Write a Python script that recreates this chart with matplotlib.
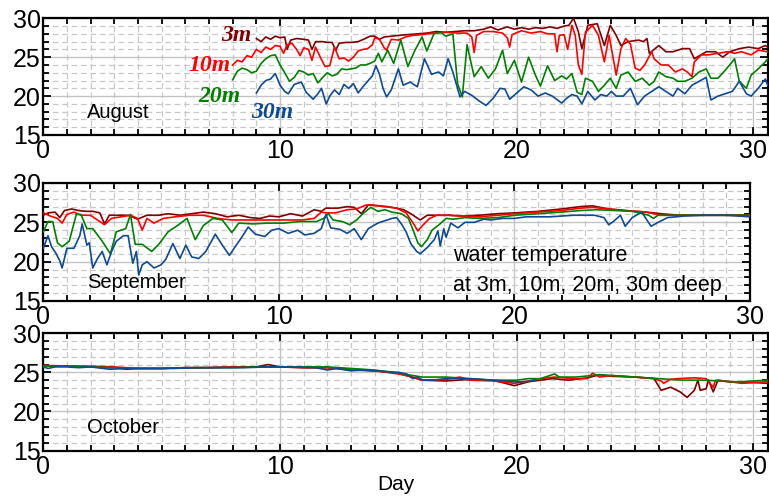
import matplotlib
matplotlib.use('Agg')
import matplotlib.pyplot as plt
from matplotlib.ticker import MultipleLocator, FixedLocator

# ---------------- data (day, temperature degC) ----------------
aug_3m = [(9.0,27.4),(9.2,27.0),(9.4,27.6),(9.6,27.3),(9.8,27.7),(10.0,27.5),(10.2,27.6),(10.3,26.0),(10.45,27.2),(10.7,27.4),
          (11.0,27.3),(11.2,27.2),(11.35,26.0),(11.5,27.0),(11.8,27.0),(12.0,26.9),(12.2,26.9),(12.35,25.9),(12.5,26.8),(12.8,26.9),
          (13.0,26.9),(13.3,27.0),(13.6,27.4),(13.8,27.7),(14.0,27.7),(14.2,27.3),(14.4,27.6),(14.7,27.7),(15.0,27.8),(15.4,27.9),
          (15.8,28.0),(16.2,28.1),(16.6,28.3),(17.0,28.2),(17.4,28.3),(17.8,28.4),(18.2,28.4),(18.6,28.6),(18.9,28.9),(19.2,28.5),
          (19.6,28.9),(19.9,28.6),(20.2,28.8),(20.5,28.6),(20.8,28.8),(21.1,28.7),(21.4,28.9),(21.7,28.7),(22.0,29.0),(22.2,29.1),
          (22.4,30.0),(22.6,28.3),(22.75,26.1),(23.0,29.1),(23.4,29.3),(23.7,26.5),(23.95,29.1),(24.2,27.8),(24.4,26.5),(24.7,27.0),
          (25.15,27.2),(25.35,27.0),(25.5,27.4),(25.6,25.5),(26.0,26.5),(26.3,25.7),(26.6,25.7),(27.0,26.1),(27.3,26.1),(27.5,24.8),
          (28.0,25.7),(28.4,25.7),(28.7,25.0),(29.0,25.7),(29.4,26.1),(29.8,26.3),(30.2,26.1),(30.5,26.5),(30.6,26.3)]
aug_10m = [(8.0,24.0),(8.2,24.6),(8.4,24.4),(8.6,25.2),(8.8,25.0),(9.0,26.0),(9.2,25.6),(9.4,26.3),(9.6,26.0),(9.8,26.5),
           (10.0,26.4),(10.15,25.5),(10.3,26.6),(10.5,26.8),(10.7,26.0),(10.85,25.2),(11.0,26.2),(11.2,26.0),(11.35,24.6),(11.5,26.3),
           (11.7,25.0),(11.9,23.8),(12.1,23.9),(12.3,26.3),(12.5,24.8),(12.7,24.9),(12.9,24.5),(13.1,25.0),(13.3,25.8),(13.5,26.0),
           (13.7,26.1),(13.9,26.6),(14.0,27.5),(14.2,27.3),(14.4,26.2),(14.5,25.9),(14.7,27.3),(15.0,27.2),(15.3,27.6),(15.6,27.8),
           (16.0,27.9),(16.5,28.1),(17.0,28.2),(17.5,28.1),(17.9,28.1),(18.1,27.6),(18.2,25.6),(18.3,27.8),(18.6,28.3),(19.0,28.3),
           (19.4,28.1),(19.6,27.5),(19.7,26.3),(19.8,27.9),(20.2,28.4),(20.6,28.1),(21.0,28.3),(21.3,28.0),(21.6,28.0),(21.7,25.7),
           (21.8,27.8),(22.0,27.9),(22.15,26.0),(22.33,29.1),(22.47,27.8),(22.6,24.0),(22.75,22.8),(22.9,28.2),(23.2,29.1),(23.45,27.8),
           (23.7,24.4),(23.9,27.8),(24.2,22.7),(24.4,26.1),(24.6,27.4),(24.8,26.7),(25.0,23.6),(25.2,23.3),(25.4,24.0),(25.7,25.7),
           (25.8,24.8),(26.1,24.0),(26.4,24.0),(26.7,23.1),(27.0,23.5),(27.2,23.1),(27.4,22.5),(27.5,24.4),(27.8,25.3),(28.1,25.3),
           (28.5,25.5),(28.9,25.7),(29.2,25.5),(29.5,25.7),(29.9,25.3),(30.2,25.9),(30.6,25.7)]
aug_20m = [(8.0,22.1),(8.2,23.2),(8.4,23.6),(8.6,23.4),(8.8,23.0),(9.0,23.2),(9.2,24.2),(9.4,24.8),(9.6,25.2),(9.8,25.3),
           (10.0,24.0),(10.2,23.0),(10.4,21.9),(10.6,22.4),(10.8,23.3),(11.0,23.1),(11.2,22.7),(11.4,22.9),(11.6,21.7),(11.8,22.4),
           (12.0,23.0),(12.2,22.6),(12.4,22.8),(12.6,23.5),(12.8,23.4),(13.0,23.5),(13.2,23.6),(13.4,24.0),(13.6,24.0),(13.8,24.2),
           (14.0,24.5),(14.15,25.5),(14.3,24.4),(14.55,25.9),(14.8,24.2),(15.1,27.2),(15.4,23.8),(15.7,25.9),(16.0,27.6),(16.2,25.8),
           (16.5,28.0),(16.8,28.2),(17.0,27.7),(17.3,28.0),(17.5,21.6),(17.7,19.9),(17.9,26.6),(18.2,22.5),(18.5,23.8),(18.8,22.3),
           (19.1,23.5),(19.4,25.9),(19.6,22.9),(19.9,24.6),(20.2,21.8),(20.5,25.0),(20.8,22.6),(21.0,21.3),(21.3,23.9),(21.6,22.0),
           (21.9,22.6),(22.1,22.2),(22.33,22.9),(22.55,20.5),(22.75,20.2),(22.9,22.3),(23.2,21.9),(23.45,20.6),(23.7,21.4),(23.95,22.3),
           (24.2,21.0),(24.4,22.7),(24.7,23.1),(25.0,21.9),(25.3,22.3),(25.6,21.4),(25.8,21.9),(26.0,23.1),(26.3,22.5),(26.6,22.3),
           (26.8,21.9),(27.1,21.9),(27.4,22.3),(27.7,23.1),(28.0,23.5),(28.2,22.3),(28.5,22.3),(28.8,23.3),(29.1,24.4),(29.2,24.8),
           (29.4,21.9),(29.7,21.0),(29.9,22.7),(30.2,23.5),(30.5,24.4),(30.6,24.8)]
aug_30m = [(9.0,20.4),(9.2,21.4),(9.4,22.0),(9.6,22.2),(9.8,22.9),(10.0,21.4),(10.2,20.6),(10.35,20.3),(10.6,21.5),(10.9,21.8),
           (11.1,20.5),(11.4,19.6),(11.6,20.3),(11.75,21.0),(11.95,19.0),(12.1,20.0),(12.3,20.8),(12.5,20.2),(12.7,21.5),(12.9,21.0),
           (13.1,21.6),(13.3,20.4),(13.5,21.2),(13.7,21.9),(13.9,22.6),(14.05,23.9),(14.2,22.8),(14.35,21.0),(14.5,19.9),(14.7,20.8),
           (15.0,23.5),(15.2,21.4),(15.5,21.8),(15.8,21.2),(16.1,24.8),(16.4,22.8),(16.7,23.1),(16.9,22.6),(17.1,24.8),(17.3,23.1),
           (17.6,19.9),(17.8,20.6),(18.1,20.1),(18.4,19.4),(18.7,18.8),(19.0,19.7),(19.3,21.0),(19.5,20.9),(19.7,19.6),(20.0,20.4),
           (20.3,21.2),(20.6,20.8),(20.9,20.0),(21.2,20.4),(21.5,20.0),(21.9,19.1),(22.1,19.7),(22.33,20.2),(22.55,20.0),(22.75,19.0),
           (23.0,20.6),(23.3,19.5),(23.55,20.2),(23.8,20.0),(24.0,20.6),(24.2,20.0),(24.5,20.0),(24.8,21.0),(25.1,18.9),(25.4,20.0),
           (25.7,20.6),(26.0,21.2),(26.3,20.6),(26.6,20.0),(26.8,21.0),(27.1,20.3),(27.4,21.4),(27.7,21.9),(28.0,22.4),(28.2,19.5),
           (28.5,20.0),(28.8,20.3),(29.1,20.6),(29.2,21.0),(29.4,21.9),(29.7,20.3),(29.9,20.0),(30.2,21.0),(30.5,22.2),(30.6,21.4)]

sep_3m = [(0.0,25.9),(0.2,26.2),(0.5,26.3),(0.7,25.6),(0.9,26.5),(1.2,26.7),(1.5,26.5),(1.8,26.4),(2.1,26.4),(2.4,26.2),
          (2.6,24.8),(2.8,25.9),(3.2,25.9),(3.6,25.9),(4.0,25.4),(4.4,25.9),(4.9,25.9),(5.3,26.1),(5.8,25.9),(6.3,26.1),
          (6.8,26.3),(7.3,26.1),(7.8,25.7),(8.3,25.9),(8.8,25.6),(9.2,25.5),(9.6,25.8),(10.0,25.7),(10.5,26.1),(11.0,25.8),
          (11.5,26.6),(11.8,26.4),(12.0,26.8),(12.5,26.8),(12.9,27.0),(13.2,26.9),(13.5,26.1),(13.8,27.2),(14.2,27.1),(14.6,27.0),
          (15.0,26.8),(15.3,26.6),(15.6,26.1),(15.8,25.7),(16.0,25.3),(16.3,25.9),(16.7,25.9),(17.2,25.9),(17.8,25.8),(18.5,25.9),
          (19.3,26.1),(20.0,26.2),(21.0,26.4),(22.0,26.7),(22.8,27.0),(23.3,27.1),(24.0,26.7),(24.7,26.5),(25.6,26.3),(26.2,26.1),
          (27.0,25.9),(28.0,25.9),(29.0,25.9),(30.0,25.9)]
sep_10m = [(0.0,26.2),(0.3,25.8),(0.6,25.5),(0.8,24.9),(1.0,26.0),(1.3,26.3),(1.6,25.9),(2.0,25.9),(2.3,25.3),(2.6,24.7),
           (2.9,25.5),(3.3,25.7),(3.7,25.9),(4.0,25.5),(4.2,24.0),(4.4,25.5),(4.7,24.9),(5.1,25.5),(5.6,25.7),(6.2,25.9),
           (6.8,25.9),(7.4,25.5),(8.0,25.3),(8.6,25.3),(9.2,25.3),(9.8,25.3),(10.5,25.3),(11.0,25.3),(11.5,25.5),(11.8,26.3),
           (12.0,26.2),(12.4,26.2),(12.9,26.6),(13.3,26.7),(13.7,27.2),(14.0,27.2),(14.5,27.0),(15.0,26.8),(15.4,26.2),(15.7,24.9),
           (15.9,23.9),(16.1,24.6),(16.4,25.5),(16.7,25.9),(17.2,25.9),(17.8,25.8),(18.5,25.7),(19.3,25.9),(20.0,26.1),(21.0,26.3),
           (22.0,26.5),(22.8,26.8),(23.3,26.9),(24.0,26.7),(24.7,26.5),(25.6,26.3),(26.2,25.9),(27.0,25.9),(28.0,25.9),(29.0,25.9),
           (30.0,25.9)]
sep_20m = [(0.0,23.8),(0.2,25.1),(0.4,25.1),(0.6,22.4),(0.8,21.9),(1.1,22.6),(1.4,26.0),(1.6,26.0),(1.85,24.2),(2.1,24.2),
           (2.5,22.6),(2.85,21.0),(3.1,23.8),(3.5,24.2),(3.7,26.0),(3.9,22.2),(4.2,22.2),(4.6,21.3),(4.9,22.2),(5.3,23.8),
           (5.7,24.6),(6.1,25.5),(6.45,22.8),(6.8,24.6),(7.2,25.5),(7.6,25.3),(8.0,23.7),(8.3,24.9),(8.9,24.8),(9.5,24.9),
           (10.2,24.9),(10.9,25.1),(11.6,25.1),(11.9,25.5),(12.1,26.1),(12.3,25.3),(12.7,25.1),(13.0,24.7),(13.3,25.3),(13.6,26.2),
           (13.9,26.9),(14.2,26.4),(14.5,26.6),(14.8,26.3),(15.2,26.1),(15.5,25.5),(15.7,24.0),(15.9,22.4),(16.05,21.9),(16.3,22.8),
           (16.5,24.0),(16.8,24.7),(17.1,25.5),(17.4,25.4),(17.9,25.6),(18.5,25.5),(19.3,25.6),(20.0,25.9),(21.0,26.1),(22.0,26.3),
           (22.8,26.5),(23.5,26.6),(24.3,26.5),(25.0,26.4),(25.7,25.9),(25.9,25.5),(26.1,25.9),(27.0,25.9),(28.0,25.9),(29.0,25.9),
           (30.0,25.9)]
sep_30m = [(0.0,21.7),(0.2,23.3),(0.35,21.9),(0.55,21.0),(0.7,20.1),(0.8,19.2),(1.0,21.7),(1.3,21.7),(1.55,23.3),(1.65,24.8),
           (1.85,22.1),(1.95,22.4),(2.1,19.2),(2.3,20.4),(2.5,21.3),(2.7,19.6),(2.9,21.3),(3.1,22.6),(3.4,23.3),(3.6,23.3),
           (3.8,19.8),(3.95,21.3),(4.05,18.3),(4.2,19.6),(4.4,20.0),(4.7,19.2),(5.0,19.6),(5.2,20.3),(5.5,22.3),(5.8,20.4),
           (6.05,22.1),(6.3,20.6),(6.6,20.4),(6.9,21.3),(7.3,23.5),(7.6,22.1),(7.9,20.8),(8.1,21.7),(8.4,23.0),(8.7,24.4),
           (9.0,23.5),(9.4,23.2),(9.7,24.0),(10.0,24.2),(10.4,23.6),(10.8,24.0),(11.1,23.4),(11.5,23.6),(11.8,24.2),(12.0,26.0),
           (12.2,24.3),(12.6,24.1),(12.9,23.6),(13.2,24.2),(13.5,22.8),(13.8,24.2),(14.2,24.9),(14.5,25.2),(14.8,25.5),(15.0,25.6),
           (15.2,24.8),(15.4,23.8),(15.6,22.3),(15.85,21.3),(16.0,21.0),(16.3,21.8),(16.6,22.8),(16.75,23.9),(16.85,22.0),(17.0,24.2),
           (17.1,23.1),(17.3,24.9),(17.6,24.3),(17.9,25.0),(18.3,25.0),(18.7,25.4),(19.0,25.3),(19.5,25.5),(20.0,25.5),(20.5,25.7),
           (21.5,25.7),(22.5,25.9),(23.4,25.9),(23.8,25.6),(24.0,24.7),(24.2,25.1),(24.5,25.9),(24.7,24.5),(25.0,25.6),(25.4,26.3),
           (25.8,24.5),(26.1,25.0),(26.5,25.6),(27.2,25.8),(28.0,25.9),(29.0,25.9),(30.0,25.7)]

oct_3m = [(0,25.8),(1,25.8),(2,25.7),(3,25.6),(3.5,25.4),(4,25.5),(5,25.5),(6,25.6),(7,25.6),(8,25.7),(9,25.7),(9.5,26.0),
          (10,25.7),(11,25.6),(12,25.6),(13,25.3),(14,25.2),(15,24.9),(16,24.0),(17,23.9),(18,24.1),(19,24.0),(19.9,23.3),
          (20.5,23.8),(21,24.0),(21.5,24.2),(22.2,24.0),(23,24.3),(23.5,24.7),(24,24.5),(25,24.4),(25.8,24.2),(26.1,22.7),
          (26.5,23.1),(26.9,22.5),(27.2,21.8),(27.5,22.7),(27.65,24.0),(27.75,22.7),(28.0,22.9),(28.1,24.0),(28.3,22.5),
          (28.5,24.0),(29,23.8),(29.5,23.7),(30,23.7),(30.6,23.6)]
oct_10m = [(0,25.9),(1,25.8),(2,25.8),(3,25.7),(4,25.5),(5,25.5),(6,25.6),(7,25.6),(8,25.7),(9,25.7),(10,25.7),(11,25.6),
           (12,25.6),(13,25.4),(14,25.2),(15,24.8),(15.6,24.4),(16,24.0),(17,24.1),(17.6,24.4),(18,24.0),(19,23.9),(19.9,23.6),
           (20.5,23.9),(21,24.2),(21.6,24.4),(22.4,24.2),(23,24.2),(23.2,24.9),(23.5,24.4),(24,24.6),(25,24.4),(25.8,24.2),
           (26.1,23.9),(26.2,23.6),(26.5,24.1),(26.8,24.2),(27.5,24.3),(28.0,24.2),(28.3,23.1),(28.4,24.0),(29,23.8),(29.5,23.6),
           (30,23.7),(30.6,23.8)]
oct_20m = [(0,25.8),(1,25.8),(2,25.7),(3,25.6),(4,25.5),(5,25.5),(6,25.6),(7,25.6),(8,25.6),(9,25.7),(10,25.7),(11,25.7),
           (12,25.7),(13,25.5),(14,25.3),(15,24.9),(16,24.4),(17,24.4),(18,24.2),(19,24.0),(20,24.0),(20.5,24.2),(21,24.2),
           (21.6,24.8),(21.8,24.4),(22.5,24.4),(23.2,24.6),(23.5,24.7),(24,24.6),(25,24.4),(26,24.2),(27,24.0),(28,24.0),
           (29,23.8),(29.5,23.8),(30,23.9),(30.6,24.0)]
oct_30m = [(0,25.7),(0.2,25.5),(0.5,25.7),(1,25.7),(1.5,25.6),(2,25.7),(2.8,25.4),(3.5,25.5),(4.5,25.5),(5.5,25.5),(6.5,25.6),
           (7.5,25.6),(8.5,25.6),(9.5,25.7),(10.5,25.7),(11.5,25.6),(12,25.3),(12.4,25.5),(13,25.2),(13.5,25.3),(14,25.2),
           (14.5,25.1),(15,25.0),(15.35,24.8),(15.6,24.2),(15.8,24.4),(16.05,24.0),(16.5,24.0),(17,24.2),(18,24.2),(19,24.0),
           (19.9,23.8),(20.4,23.8),(20.8,24.0)]

months = ["August", "September", "October"]
depth_labels = ["3m", "10m", "20m", "30m"]
colors = ["#800000", "#ff0000", "#008000", "#0d4b94"]
x_ticks = [0, 10, 20, 30]
y_ticks = [15, 20, 25, 30]
panels = [[aug_3m, aug_10m, aug_20m, aug_30m],
          [sep_3m, sep_10m, sep_20m, sep_30m],
          [oct_3m, oct_10m, oct_20m, oct_30m]]
xmax = [30.6, 30.0, 30.6]

# ---------------- figure ----------------
W, H = 769, 497
fig = plt.figure(figsize=(W / 100, H / 100), dpi=100)
SANS = "Liberation Sans"

def px_rect(l, t, r, b):
    return [l / W, 1 - b / H, (r - l) / W, (b - t) / H]

rects = [px_rect(43.3, 18.3, 767.7, 135.0),
         px_rect(43.3, 183.0, 750.0, 301.0),
         px_rect(43.3, 333.3, 767.7, 450.5)]

axes = []
for i, ax_rect in enumerate(rects):
    ax = fig.add_axes(ax_rect)
    axes.append(ax)
    for series, c in zip(panels[i], colors):
        d = [p[0] for p in series]
        v = [p[1] for p in series]
        ax.plot(d, v, color=c, lw=1.2, zorder=3)
    ax.set_xlim(0, xmax[i])
    ax.set_ylim(15, 30)
    ax.xaxis.set_major_locator(FixedLocator(x_ticks))
    ax.yaxis.set_major_locator(FixedLocator(y_ticks))
    ax.xaxis.set_minor_locator(MultipleLocator(1))
    ax.yaxis.set_minor_locator(MultipleLocator(1))
    ax.grid(which="major", color="#c4c4c4", lw=1.0, ls="-", zorder=0)
    ax.grid(which="minor", color="#c8c8c8", lw=0.9, ls=(0, (4.5, 3.0)), zorder=0)
    ax.set_axisbelow(True)
    ax.tick_params(which="both", direction="in", top=True, right=True, width=1.3, color="black")
    ax.tick_params(which="major", length=6, labelsize=18, pad=2)
    ax.tick_params(which="minor", length=4.5)
    ax.tick_params(axis="x", which="major", pad=3)
    for lab in ax.get_xticklabels() + ax.get_yticklabels():
        lab.set_family(SANS)
    for s in ax.spines.values():
        s.set_linewidth(1.6)
        s.set_color("black")
    ax.text(1.85, 17.9 if i != 1 else 17.3, months[i], fontsize=14.5, family=SANS,
            va="center", ha="left", zorder=5)

# depth labels in August panel
lab_pos = [(7.5, 27.8), (6.15, 23.9), (6.55, 19.9), (8.8, 17.9)]
for (x, y), t, c in zip(lab_pos, depth_labels, colors):
    axes[0].text(x, y, t, color=c, fontsize=17, family="Liberation Serif",
                 fontweight="bold", fontstyle="italic", va="center", ha="left", zorder=5)

axes[1].text(17.4, 20.8, "water temperature", fontsize=15.5, family=SANS, va="center", ha="left", zorder=5)
axes[1].text(17.4, 17.0, "at 3m, 10m, 20m, 30m deep", fontsize=15.5, family=SANS, va="center", ha="left", zorder=5)

fig.text(396 / W, 1 - 485 / H, "Day", fontsize=15, family=SANS, ha="center", va="center")

fig.savefig("out.png", dpi=100)
